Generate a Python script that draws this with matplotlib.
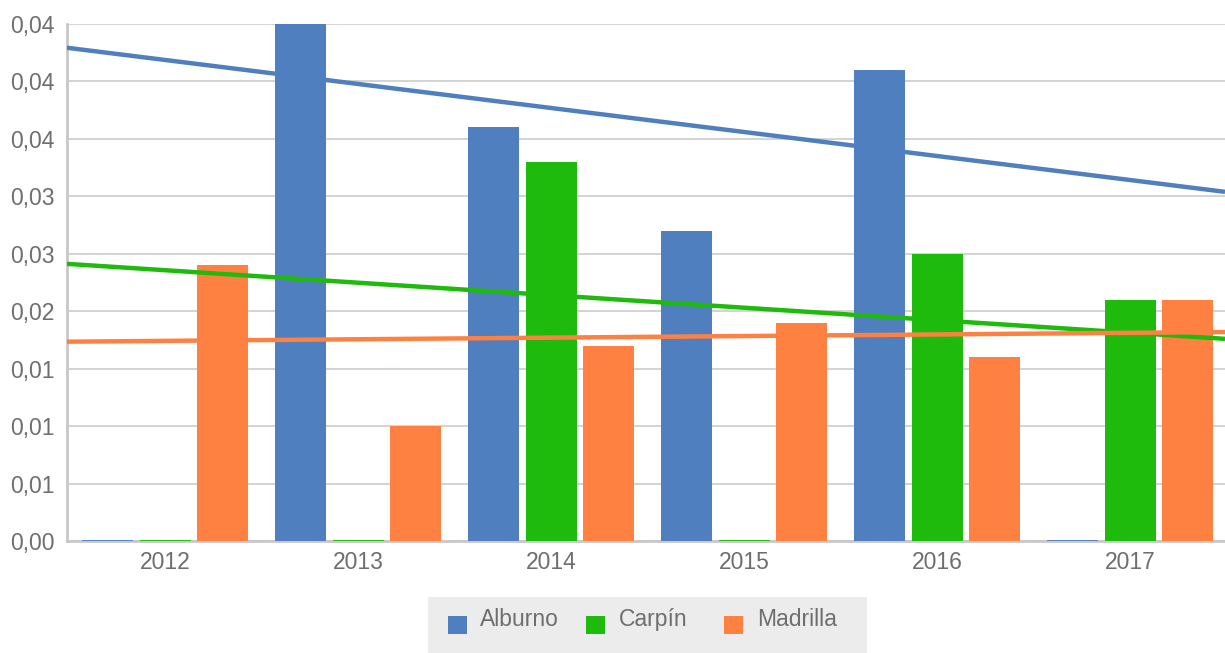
import matplotlib
matplotlib.use('Agg')
import matplotlib.pyplot as plt
from matplotlib.patches import Rectangle
import numpy as np

plt.rcParams['font.family'] = ['Liberation Sans', 'DejaVu Sans']

years    = ['2012', '2013', '2014', '2015', '2016', '2017']
series   = ['Alburno', 'Carpín', 'Madrilla']
alburno  = [0.0, 0.045, 0.036, 0.027, 0.041, 0.0]
carpin   = [0.0, 0.0, 0.033, 0.0, 0.025, 0.021]
madrilla = [0.024, 0.010, 0.017, 0.019, 0.016, 0.021]
# trend line values read at 2012 and 2017
trend_alburno  = [0.04187, 0.03142]
trend_carpin   = [0.02357, 0.01813]
trend_madrilla = [0.01742, 0.01812]
yticks      = [0.0, 0.005, 0.01, 0.015, 0.02, 0.025, 0.03, 0.035, 0.04, 0.045]
ytick_labels = ['0,00', '0,01', '0,01', '0,01', '0,02', '0,03', '0,03', '0,04', '0,04', '0,04']

colors = ['#4f7fbf', '#1fbb0c', '#ff8142']
text_col = '#6e6e6e'

W, H = 1225, 653
fig = plt.figure(figsize=(W / 100, H / 100), dpi=100)
ax = fig.add_axes([67 / W, 1 - 541 / H, (W - 67) / W, (541 - 24) / H])

x = np.arange(len(years))
step = 0.297
width = 0.264
data = [alburno, carpin, madrilla]
trends = [trend_alburno, trend_carpin, trend_madrilla]

for i, vals in enumerate(data):
    pos = x + (i - 1) * step
    vals = np.array(vals)
    ax.bar(pos, vals, width=width, color=colors[i], zorder=3)
    # zero values shown as a thin line on the baseline
    for p, v in zip(pos, vals):
        if v == 0:
            ax.hlines(0.00003, p - width / 2, p + width / 2, color=colors[i],
                      lw=1.3, zorder=4)

for i, t in enumerate(trends):
    ax.axline((0, t[0]), (5, t[1]), color=colors[i], lw=3.2, zorder=5,
              solid_capstyle='butt')

ax.set_xlim(-0.508, 5.492)
ax.set_ylim(0, 0.045)
ax.set_yticks(yticks)
ax.set_yticklabels(ytick_labels)
ax.set_xticks(x)
ax.set_xticklabels(years)
ax.tick_params(axis='both', length=0, labelsize=16.5, labelcolor=text_col)
ax.tick_params(axis='y', pad=9)
ax.tick_params(axis='x', pad=7)

ax.grid(axis='y', color='#d0d0d0', lw=1.3, zorder=0)
ax.set_axisbelow(True)
for s in ['top', 'right']:
    ax.spines[s].set_visible(False)
ax.spines['left'].set_color('#c8c8c8')
ax.spines['left'].set_linewidth(2)
ax.spines['bottom'].set_color('#c8c8c8')
ax.spines['bottom'].set_linewidth(2)
ax.spines['bottom'].set_zorder(2)

# legend box
fig.add_artist(Rectangle((428 / W, 0), 439 / W, 56 / H, transform=fig.transFigure,
                         facecolor='#ececec', edgecolor='none'))
sq_x = [448, 586, 724]
tx_x = [480, 619, 757]
for i, name in enumerate(series):
    fig.add_artist(Rectangle((sq_x[i] / W, (H - 634) / H), 19 / W, 18 / H,
                             transform=fig.transFigure, facecolor=colors[i],
                             edgecolor='none'))
    fig.text(tx_x[i] / W, (H - 626) / H, name, fontsize=16.5, color=text_col,
             va='baseline', ha='left')

fig.savefig('out.png', dpi=100)
